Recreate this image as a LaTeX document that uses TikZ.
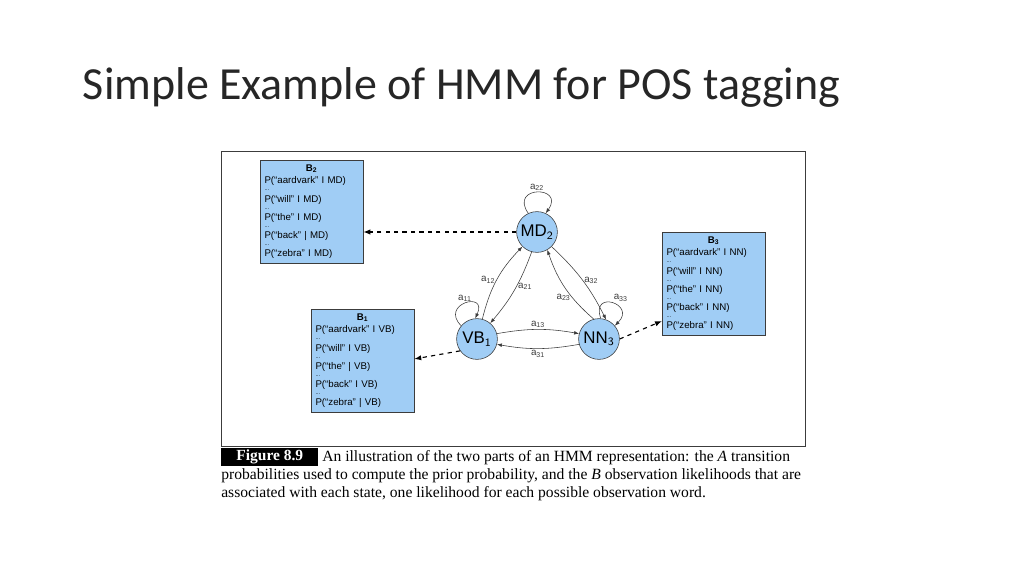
\documentclass[tikz,border=0pt]{standalone}
\usepackage{fontspec}
\setmainfont{Liberation Serif}
\newfontfamily\titlefont{Carlito}
\newfontfamily\boxfont{Liberation Sans}
\usetikzlibrary{positioning,arrows.meta}
\definecolor{hmmBlue}{RGB}{160,205,245}
\definecolor{hmmGray}{RGB}{60,60,60}
\newcommand{\obsdots}{\\[-5pt]{\fontsize{4}{4}\selectfont ...}\\[-2pt]}
\tikzset{
    state/.style={circle, draw=hmmGray, fill=hmmBlue, minimum size=29pt, inner sep=0pt,
                  font=\boxfont\fontsize{12}{13}\selectfont},
    obsbox/.style={rectangle, draw=hmmGray, fill=hmmBlue, anchor=north west, align=left,
                   inner sep=3pt, text width=67pt, font=\boxfont\fontsize{6.9}{10}\selectfont},
    trans/.style={-{Latex[length=3.5pt]}, hmmGray, thin},
    emit/.style={-{Latex[length=5pt]}, dashed, thick, black},
    plab/.style={font=\boxfont\fontsize{7}{8}\selectfont, text=hmmGray, inner sep=1pt}
}
\begin{document}
\begin{tikzpicture}[x=0.025cm, y=-0.025cm]
  \useasboundingbox (0,0) rectangle (1024,576);
  % title
  \node[anchor=base west, font=\titlefont\fontsize{32.7}{36}\selectfont, text=black!85] (title) at (78,100) {Simple Example of HMM for POS tagging};
  % figure frame
  \draw[hmmGray, thin] (221,151) rectangle (805,446);

  % states
  \node[state] (MD) at (537,232) {MD$_{\mathsf 2}$};
  \node[state] (VB) at (477,339) {VB$_{\mathsf 1}$};
  \node[state] (NN) at (599,339) {NN$_{\mathsf 3}$};

  % observation likelihoods
  \node[obsbox] (B2) at (260,160) {\makebox[\linewidth]{\textbf{B\textsubscript{2}}}\\[-1pt]
    P(“aardvark” I MD)\obsdots P(“will” I MD)\obsdots P(“the” I MD)\obsdots P(“back” | MD)\obsdots P(“zebra” I MD)};
  \node[obsbox] (B1) at (311,309) {\makebox[\linewidth]{\textbf{B\textsubscript{1}}}\\[-1pt]
    P(“aardvark” I VB)\obsdots P(“will” I VB)\obsdots P(“the” | VB)\obsdots P(“back” I VB)\obsdots P(“zebra” | VB)};
  \node[obsbox] (B3) at (662,232) {\makebox[\linewidth]{\textbf{B\textsubscript{3}}}\\[-1pt]
    P(“aardvark” I NN)\obsdots P(“will” I NN)\obsdots P(“the” I NN)\obsdots P(“back” I NN)\obsdots P(“zebra” I NN)};

  % self loops
  \draw[trans] (MD.115) to[out=125, in=55, looseness=5] node[plab, above] {a\textsubscript{22}} (MD.65);
  \draw[trans] (VB.140) to[out=135, in=65, looseness=5] node[plab, above] {a\textsubscript{11}} (VB.95);
  \draw[trans] (NN.85) to[out=110, in=45, looseness=5] node[plab, above right] {a\textsubscript{33}} (NN.40);

  % transitions
  \draw[trans] (VB.75) to[bend left=15] node[plab, left] {a\textsubscript{12}} (MD.225);
  \draw[trans] (MD.255) to[bend left=10] node[plab, right, pos=0.45] {a\textsubscript{21}} (VB.50);
  \draw[trans] (NN.105) to[bend left=15] node[plab, left, pos=0.35] {a\textsubscript{23}} (MD.300);
  \draw[trans] (MD.315) to[bend left=10] node[plab, right] {a\textsubscript{32}} (NN.70);
  \draw[trans] (VB.15) to[bend left=10] node[plab, above] {a\textsubscript{13}} (NN.165);
  \draw[trans] (NN.195) to[bend left=10] node[plab, below] {a\textsubscript{31}} (VB.345);

  % emissions
  \draw[emit] (MD.west) -- (B2.east |- MD.west);
  \draw[emit] (VB.215) -- (B1.east |- 0,359);
  \draw[emit] (NN.east) -- (B3.west |- 0,321);

  % caption
  \node[anchor=north west, fill=black, text=white, font=\bfseries\fontsize{11}{12}\selectfont, inner sep=1pt, minimum width=69pt, minimum height=12.5pt] (fig) at (221,448) {Figure 8.9};
  \node[anchor=north west, text width=344pt, align=justify, font=\fontsize{11.1}{12.9}\selectfont, inner sep=0pt] (cap1) at (322,450) {An illustration of the two parts of an HMM representation: the \textit{A} transition};
  \node[anchor=north west, text width=415pt, align=justify, font=\fontsize{11.1}{12.9}\selectfont, inner sep=0pt] (cap2) at (221,468) {probabilities used to compute the prior probability, and the \textit{B} observation likelihoods that are\\ associated with each state, one likelihood for each possible observation word.};
\end{tikzpicture}
\end{document}
